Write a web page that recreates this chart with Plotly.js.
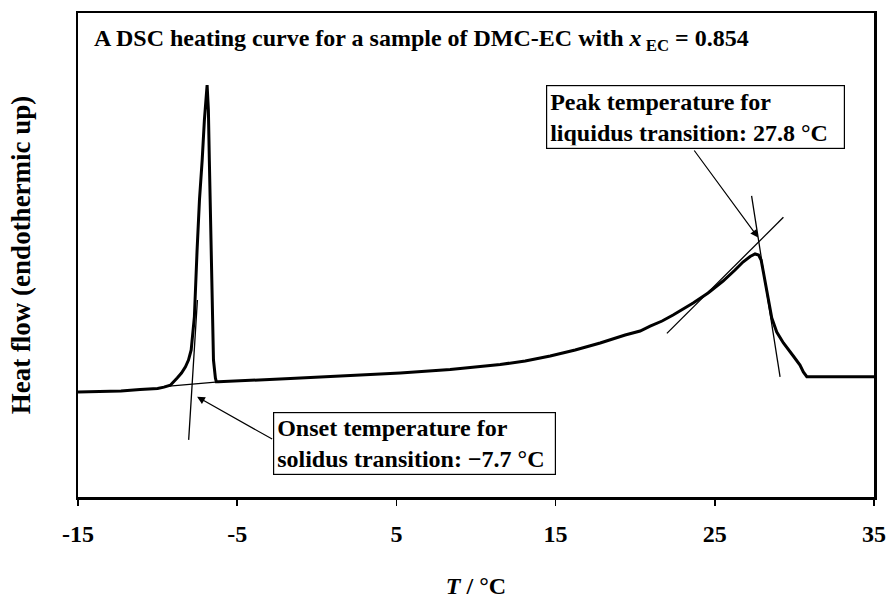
<!DOCTYPE html>
<html>
<head>
<meta charset="utf-8">
<script src="https://cdn.plot.ly/plotly-3.0.1.min.js"></script>
<style>html,body{margin:0;padding:0;background:#fff;}#chart{width:887px;height:599px;}</style>
</head>
<body>
<div id="chart"></div>
<script>
// DSC heating curve, temperature (°C) vs heat flow (arbitrary units, endothermic up)
const T = [-15, -12.3, -11.1, -10.0, -9.6, -9.2, -8.77, -8.5, -8.25, -8.06, -7.89, -7.69, -7.52, -7.37, -7.2, -7.06, -6.89, -6.81, -6.75, -6.64, -6.58, -6.49, -6.37, -6.31, -6.18,
  -4.17, -1.66, 2.11, 5.24, 8.38, 9.95, 11.52, 13.09, 14.66, 16.23, 17.8, 19.37, 20.31, 20.94, 21.69, 22.38, 23.01, 23.64, 24.58, 25.52, 26.27, 26.77, 27.22, 27.53, 27.75, 27.91, 28.05, 28.26, 28.58, 28.89, 29.31, 29.93, 30.35, 30.56, 30.78, 35];
const HF = [21.7, 21.9, 22.2, 22.4, 22.7, 23.1, 24.6, 25.6, 26.9, 28.3, 30.4, 37.2, 51.0, 61.4, 69.6, 77.9, 85.1, 80.0, 69.6, 49.0, 40.7, 28.3, 24.6, 23.8, 23.8,
  24.07, 24.48, 25.1, 25.62, 26.34, 26.86, 27.38, 28.1, 29.13, 30.37, 31.82, 33.47, 34.3, 35.3, 36.36, 37.6, 38.84, 40.08, 42.15, 44.63, 46.9, 48.55, 49.69, 50.21, 50.0, 48.97, 46.49, 42.36, 36.98, 34.09, 31.82, 29.13, 27.27, 25.83, 24.86, 24.86];

// construction (tangent) lines
const baseExtT = [-9.63, -6.18];
const baseExtY = [22.8, 23.8];
const onsetTanT = [-8.05, -7.50];
const onsetTanY = [11.8, 40.7];
const riseTanT = [21.99, 29.31];
const riseTanY = [33.8, 57.8];
const dropTanT = [27.31, 29.10];
const dropTanY = [62.2, 24.8];

// annotation anchor values
const onsetPoint = [-7.52, 20.7];
const onsetTail = [-2.71, 11.8];
const peakPoint = [27.72, 53.6];
const peakTail = [23.64, 71.9];
const onsetBox = [-2.73, 17.6];
const peakBox = [14.41, 85.1];

const tickVals = [-15, -5, 5, 15, 25, 35];
const tickText = ["-15", "-5", "5", "15", "25", "35"];

const FONT = "Liberation Serif, Times New Roman, serif";

const thin = {color: "#000", width: 1.3};
const traces = [
  {x: T, y: HF, mode: "lines", line: {color: "#000", width: 3}, hoverinfo: "skip"},
  {x: baseExtT, y: baseExtY, mode: "lines", line: thin},
  {x: onsetTanT, y: onsetTanY, mode: "lines", line: thin},
  {x: riseTanT, y: riseTanY, mode: "lines", line: thin},
  {x: dropTanT, y: dropTanY, mode: "lines", line: thin}
];

const boxFont = {family: FONT, size: 24, color: "#000", weight: "bold"};

const layout = {
  width: 887, height: 599,
  margin: {l: 78, r: 13, t: 13, b: 102},
  paper_bgcolor: "#fff", plot_bgcolor: "#fff",
  showlegend: false,
  font: {family: FONT, color: "#000"},
  xaxis: {
    range: [-15, 35], tickvals: tickVals, ticktext: tickText,
    ticks: "outside", ticklen: 6, tickwidth: 1.5, tickcolor: "#000",
    showline: true, linewidth: 2.5, linecolor: "#000", mirror: true,
    showgrid: false, zeroline: false,
    ticklabelstandoff: 8,
    tickfont: {family: FONT, size: 24, color: "#000", weight: "bold"},
    title: {text: "<i>T</i> / °C", font: {family: FONT, size: 24, color: "#000", weight: "bold"}, standoff: 44}
  },
  yaxis: {
    range: [0, 100], showticklabels: false, ticks: "",
    showline: true, linewidth: 2.5, linecolor: "#000", mirror: true,
    showgrid: false, zeroline: false,
    title: {text: "Heat flow (endothermic up)", font: {family: FONT, size: 27, color: "#000", weight: "bold"}, standoff: 37}
  },
  annotations: [
    {xref: "paper", yref: "paper", x: 0.018, y: 0.9785, xanchor: "left", yanchor: "top", showarrow: false,
     text: "A DSC heating curve for a sample of DMC-EC with <i>x</i><sub> EC</sub> = 0.854", font: boxFont},
    {x: onsetBox[0], y: onsetBox[1], xref: "x", yref: "y", xanchor: "left", yanchor: "top", showarrow: false,
     text: "Onset temperature for<br>solidus transition: \u22127.7 °C", align: "left", font: boxFont,
     bgcolor: "#fff", bordercolor: "#000", borderwidth: 1.2, borderpad: 3, width: 275, height: 55},
    {x: peakBox[0], y: peakBox[1], xref: "x", yref: "y", xanchor: "left", yanchor: "top", showarrow: false,
     text: "Peak temperature for<br>liquidus transition: 27.8 °C", align: "left", font: boxFont,
     bgcolor: "#fff", bordercolor: "#000", borderwidth: 1.2, borderpad: 3, width: 291, height: 56},
    {x: onsetPoint[0], y: onsetPoint[1], ax: onsetTail[0], ay: onsetTail[1], xref: "x", yref: "y", axref: "x", ayref: "y",
     text: "", showarrow: true, arrowhead: 2, arrowsize: 1.3, arrowwidth: 1.2, arrowcolor: "#000", standoff: 0},
    {x: peakPoint[0], y: peakPoint[1], ax: peakTail[0], ay: peakTail[1], xref: "x", yref: "y", axref: "x", ayref: "y",
     text: "", showarrow: true, arrowhead: 2, arrowsize: 1.3, arrowwidth: 1.2, arrowcolor: "#000", standoff: 0}
  ]
};

Plotly.newPlot("chart", traces, layout, {staticPlot: true, displayModeBar: false});
</script>
</body>
</html>
